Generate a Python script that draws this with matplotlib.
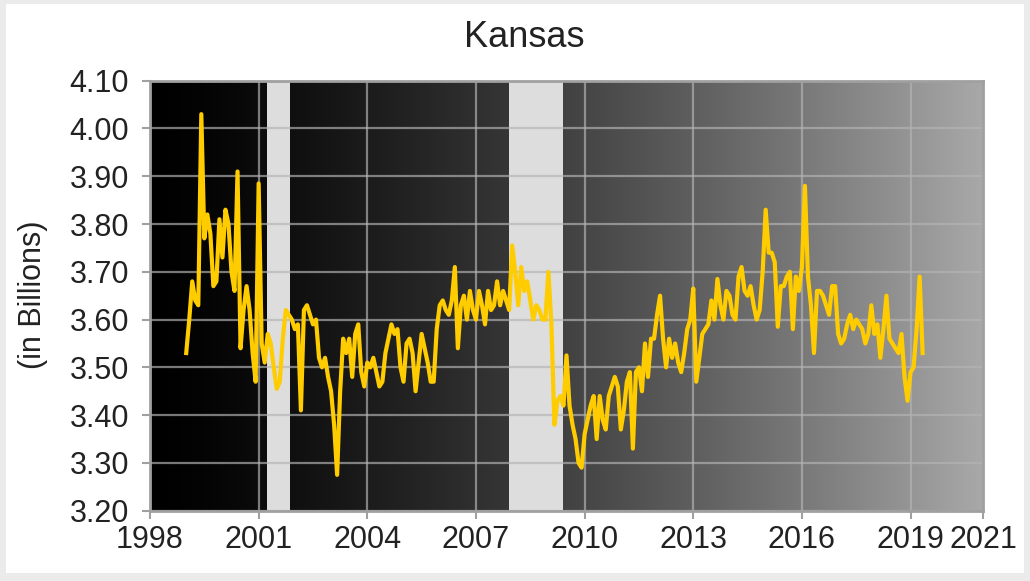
import numpy as np
import matplotlib
matplotlib.use("Agg")
import matplotlib.pyplot as plt
from matplotlib.patches import Rectangle

# ---------------- data ----------------
title = "Kansas"
y_label = "(in Billions)"
start_year = 1999  # monthly series, first month = January 1999
values = [
    3.53, 3.60, 3.68, 3.64, 3.63, 4.03, 3.77, 3.82, 3.78, 3.67,
    3.68, 3.81, 3.73, 3.83, 3.80, 3.70, 3.66, 3.91, 3.54, 3.62,
    3.67, 3.62, 3.53, 3.47, 3.885, 3.55, 3.51, 3.57, 3.55, 3.50,
    3.455, 3.47, 3.56, 3.62, 3.61, 3.60, 3.58, 3.59, 3.41, 3.62,
    3.63, 3.61, 3.59, 3.60, 3.52, 3.50, 3.52, 3.48, 3.45, 3.38,
    3.275, 3.45, 3.56, 3.53, 3.56, 3.48, 3.57, 3.59, 3.49, 3.46,
    3.51, 3.50, 3.52, 3.49, 3.46, 3.47, 3.53, 3.56, 3.59, 3.57,
    3.58, 3.50, 3.47, 3.55, 3.56, 3.53, 3.45, 3.51, 3.57, 3.54,
    3.51, 3.47, 3.47, 3.58, 3.63, 3.64, 3.62, 3.61, 3.64, 3.71,
    3.54, 3.63, 3.65, 3.60, 3.66, 3.62, 3.60, 3.66, 3.63, 3.59,
    3.66, 3.62, 3.63, 3.68, 3.63, 3.66, 3.64, 3.62, 3.755, 3.70,
    3.63, 3.71, 3.66, 3.68, 3.64, 3.60, 3.63, 3.62, 3.60, 3.60,
    3.70, 3.59, 3.38, 3.43, 3.44, 3.42, 3.525, 3.42, 3.38, 3.35,
    3.30, 3.29, 3.36, 3.39, 3.42, 3.44, 3.35, 3.44, 3.39, 3.37,
    3.44, 3.46, 3.48, 3.46, 3.37, 3.41, 3.47, 3.49, 3.33, 3.49,
    3.50, 3.45, 3.55, 3.48, 3.56, 3.56, 3.61, 3.65, 3.56, 3.50,
    3.56, 3.52, 3.55, 3.51, 3.49, 3.53, 3.58, 3.60, 3.665, 3.47,
    3.52, 3.57, 3.58, 3.59, 3.64, 3.60, 3.685, 3.63, 3.60, 3.66,
    3.65, 3.61, 3.60, 3.69, 3.71, 3.66, 3.65, 3.67, 3.63, 3.60,
    3.62, 3.70, 3.83, 3.74, 3.74, 3.72, 3.585, 3.67, 3.67, 3.69,
    3.70, 3.58, 3.69, 3.66, 3.71, 3.88, 3.69, 3.63, 3.53, 3.66,
    3.66, 3.65, 3.63, 3.61, 3.67, 3.67, 3.57, 3.55, 3.56, 3.59,
    3.61, 3.58, 3.60, 3.59, 3.58, 3.55, 3.57, 3.63, 3.57, 3.59,
    3.52, 3.58, 3.65, 3.56, 3.55, 3.54, 3.53, 3.57, 3.48, 3.43,
    3.49, 3.50, 3.58, 3.69, 3.53,
]
recession_starts = [2001.22, 2007.92]
recession_ends = [2001.86, 2009.40]
x_ticks = [1998, 2001, 2004, 2007, 2010, 2013, 2016, 2019, 2021]
x_tick_labels = ["1998", "2001", "2004", "2007", "2010", "2013", "2016", "2019", "2021"]
y_ticks = [3.20, 3.30, 3.40, 3.50, 3.60, 3.70, 3.80, 3.90, 4.00, 4.10]
y_tick_labels = ["%.2f" % v for v in y_ticks]

# ---------------- style ----------------
plt.rcParams['font.family'] = ['Liberation Sans', 'DejaVu Sans']
W, H = 1030, 581
fig = plt.figure(figsize=(W / 100, H / 100), dpi=100)
fig.patch.set_facecolor('#ebebeb')
fig.add_artist(Rectangle((6 / W, 8 / H), (W - 12) / W, (H - 12) / H,
                         transform=fig.transFigure, facecolor='white',
                         edgecolor='none', zorder=-10))

ax = fig.add_axes([150 / W, (H - 510.7) / H, (983 - 150) / W, (510.7 - 80.7) / H])

# horizontal background gradient (black -> light gray)
f = np.linspace(0, 1, 512)
g = 0.66 * f ** 1.35
grad = np.stack([g, g, g], axis=-1)[None, :, :]
ax.imshow(grad, extent=[0, 1, 0, 1], transform=ax.transAxes, aspect='auto',
          zorder=0, interpolation='bilinear')

for s, e in zip(recession_starts, recession_ends):
    ax.axvspan(s, e, color='#dddddd', lw=0, zorder=1)

x = start_year + np.arange(len(values)) / 12.0
ax.plot(x, values, color='#ffcc00', lw=3.0, zorder=3, solid_joinstyle='round')

ax.set_xlim(1998, 2021)
ax.set_ylim(3.2, 4.1)
ax.set_xticks(x_ticks)
ax.set_xticklabels(x_tick_labels)
ax.set_yticks(y_ticks)
ax.set_yticklabels(y_tick_labels)

ax.set_axisbelow('line')
ax.grid(True, color='#b4b4b4', alpha=0.67, lw=1.6)

for sp in ax.spines.values():
    sp.set_color('#a0a0a0')
    sp.set_linewidth(2)

ax.tick_params(axis='both', colors='#a0a0a0', labelcolor='#222222',
               labelsize=22, length=6, width=1.5)
ax.tick_params(axis='y', pad=9)
ax.tick_params(axis='x', pad=4)

fig.text(524 / W, 1 - 47 / H, title, ha='center', va='baseline',
         fontsize=26, color='#222222')
fig.text(33 / W, 1 - 295 / H, y_label, ha='center', va='center',
         rotation=90, fontsize=22, color='#222222')

fig.savefig('out.png', dpi=100, facecolor=fig.get_facecolor())
